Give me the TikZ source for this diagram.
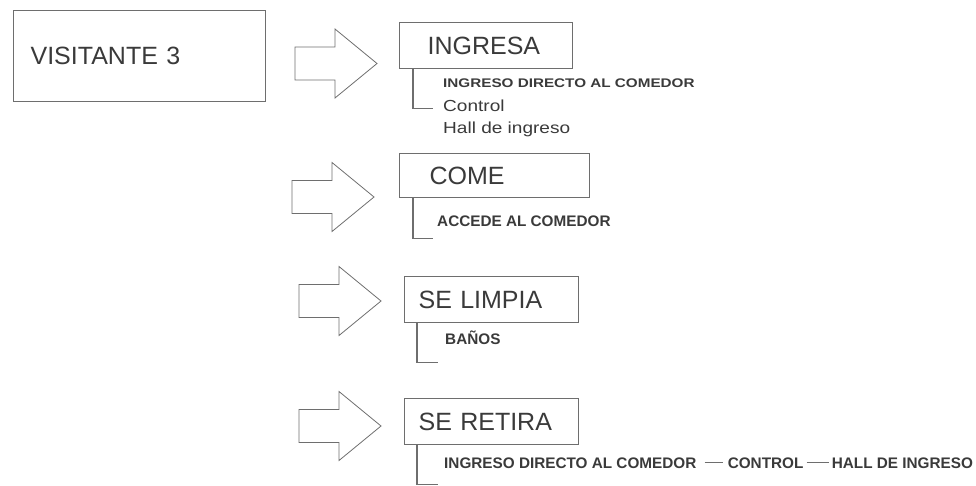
\documentclass[tikz,border=0pt]{standalone}
\usepackage{fontspec}
\setmainfont{Liberation Sans}
\usetikzlibrary{positioning}
\definecolor{linea}{HTML}{6E6E6E}
\definecolor{texto}{HTML}{3A3A3A}

\begin{document}
\begin{tikzpicture}[
  x=1pt, y=1pt,
  caja/.style={draw=linea, line width=1.2pt, anchor=north west, align=left,
               inner ysep=0pt, text=texto,
               font=\fontsize{25}{28}\selectfont},
  sub/.style={anchor=base west, inner sep=0pt, text=texto,
              font=\bfseries\fontsize{15.3}{18}\selectfont},
  subx/.style={anchor=base west, inner sep=0pt, text=texto,
               font=\bfseries\fontsize{12.5}{15}\selectfont\addfontfeatures{FakeStretch=1.22}},
  regx/.style={anchor=base west, inner sep=0pt, text=texto,
               font=\fontsize{16}{19}\selectfont\addfontfeatures{FakeStretch=1.19}},
  guia/.style={draw=linea, line width=1.2pt},
  flecha/.pic={
    \draw[draw=linea, line width=0.8pt, line join=miter]
      (0,16.5) -- (40,16.5) -- (40,34.5) -- (82,0) -- (40,-34.5)
      -- (40,-16.5) -- (0,-16.5) -- cycle;
  },
]
  \useasboundingbox (0,0) rectangle (976,-485);

  %% visitor box
  \node[caja, text width=218pt, inner xsep=17pt, minimum height=91pt]
    (vis) at (13,-10) {VISITANTE 3};

  %% block arrows
  \pic at (295,-63.5) {flecha};
  \pic at (292,-197)  {flecha};
  \pic at (299,-301)  {flecha};
  \pic at (299,-426)  {flecha};

  %% step boxes
  \node[caja, text width=117pt, inner xsep=28pt, minimum height=46pt]
    (ing) at (399,-22) {INGRESA};
  \node[caja, text width=130pt, inner xsep=30pt, minimum height=44pt]
    (com) at (399,-153) {COME};
  \node[caja, text width=146pt, inner xsep=14pt, minimum height=46pt]
    (lim) at (404,-276) {SE LIMPIA};
  \node[caja, text width=146pt, inner xsep=14pt, minimum height=46pt]
    (ret) at (404,-398) {SE RETIRA};

  %% brackets under the boxes
  \draw[guia] ([xshift=14pt]ing.south west) -- ++(0,-39) -- ++(20,0);
  \draw[guia] ([xshift=14pt]com.south west) -- ++(0,-40) -- ++(20,0);
  \draw[guia] ([xshift=13pt]lim.south west) -- ++(0,-39) -- ++(21,0);
  \draw[guia] ([xshift=13pt]ret.south west) -- ++(0,-39) -- ++(21,0);

  %% INGRESA
  \node[subx] (ing1) at (443,-87)  {INGRESO DIRECTO AL COMEDOR};
  \node[regx] (ing2) at (443,-111) {Control};
  \node[regx] (ing3) at (443,-133) {Hall de ingreso};

  %% COME
  \node[sub] (com1) at (437,-226) {ACCEDE AL COMEDOR};

  %% SE LIMPIA
  \node[sub] (lim1) at (445,-344) {BAÑOS};

  %% SE RETIRA
  \node[sub] (ret1) at (444,-468) {INGRESO DIRECTO AL COMEDOR};
  \node[sub, right=31pt of ret1] (ret2) {CONTROL};
  \node[sub, right=28pt of ret2] (ret3) {HALL DE INGRESO};
  \draw[guia, shorten <=8pt, shorten >=5pt] (ret1) -- (ret2);
  \draw[guia, shorten <=3pt, shorten >=3pt] (ret2) -- (ret3);
\end{tikzpicture}
\end{document}
